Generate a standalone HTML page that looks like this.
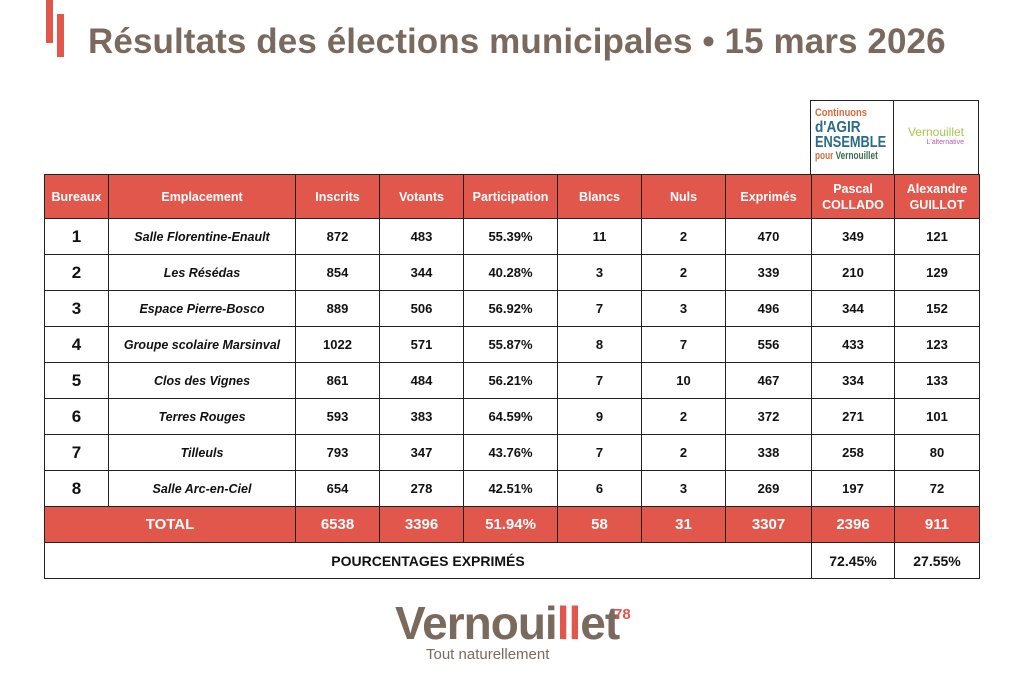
<!DOCTYPE html>
<html><head><meta charset="utf-8"><style>
body{margin:0;width:1024px;height:682px;background:#fff;position:relative;overflow:hidden;font-family:"Liberation Sans",sans-serif}
.bar{position:absolute;background:#e2574c}
h1{position:absolute;left:88px;top:22px;margin:0;font-size:35px;font-weight:bold;color:#7a6a5e;white-space:nowrap;letter-spacing:0.1px}
table{position:absolute;left:44px;top:174px;border-collapse:collapse;table-layout:fixed;width:935px}
td{border:1.5px solid #222;text-align:center;font-size:13px;font-weight:bold;color:#111;height:35px;padding:0}
tr.h td{background:#e2574c;color:#fff;font-size:12.5px;height:43px;line-height:16px}
tr.t td{background:#e2574c;color:#fff;font-size:15px;font-weight:bold}
td.b{font-size:17px}
td.i{font-style:italic;font-size:12.5px}
tr.p td{font-size:14px}
.logo{position:absolute;top:100px;height:74px;border:1.5px solid #222;border-bottom:none;box-sizing:border-box;background:#fff;overflow:hidden}
</style></head><body>
<div class="bar" style="left:46px;top:0;width:7px;height:43px"></div>
<div class="bar" style="left:57px;top:14px;width:7px;height:43px"></div>
<h1>Résultats des élections municipales • 15 mars 2026</h1>
<div class="logo" style="left:810px;width:85px;padding:6px 0 0 4px;font-weight:bold;line-height:13px">
<div style="color:#d46a3a;font-size:11px;transform:scaleX(.85);transform-origin:left">Continuons</div>
<div style="color:#2a6b8a;font-size:16px;line-height:15px;transform:scaleX(.85);transform-origin:left">d'AGIR</div>
<div style="color:#2a6b8a;font-size:16px;line-height:15px;transform:scaleX(.8);transform-origin:left">ENSEMBLE</div>
<div style="font-size:11px;transform:scaleX(.75);transform-origin:left;white-space:nowrap"><span style="color:#d46a3a">pour</span> <span style="color:#3a6b4a">Vernouillet</span></div>
</div>
<div class="logo" style="left:893px;width:86px;text-align:center;padding-top:24px">
<div style="color:#a8c44a;font-size:12px">Vernouillet</div>
<div style="color:#b060b0;font-size:7px;text-align:right;padding-right:14px">L'alternative</div>
</div>
<table>
<colgroup><col style="width:64px"><col style="width:187px"><col style="width:84px"><col style="width:84px"><col style="width:94px"><col style="width:84px"><col style="width:84px"><col style="width:86px"><col style="width:83px"><col style="width:85px"></colgroup>
<tr class="h"><td>Bureaux</td><td>Emplacement</td><td>Inscrits</td><td>Votants</td><td>Participation</td><td>Blancs</td><td>Nuls</td><td>Exprimés</td><td>Pascal<br>COLLADO</td><td>Alexandre<br>GUILLOT</td></tr>
<tr><td class="b">1</td><td class="i">Salle Florentine-Enault</td><td>872</td><td>483</td><td>55.39%</td><td>11</td><td>2</td><td>470</td><td>349</td><td>121</td></tr>
<tr><td class="b">2</td><td class="i">Les Résédas</td><td>854</td><td>344</td><td>40.28%</td><td>3</td><td>2</td><td>339</td><td>210</td><td>129</td></tr>
<tr><td class="b">3</td><td class="i">Espace Pierre-Bosco</td><td>889</td><td>506</td><td>56.92%</td><td>7</td><td>3</td><td>496</td><td>344</td><td>152</td></tr>
<tr><td class="b">4</td><td class="i">Groupe scolaire Marsinval</td><td>1022</td><td>571</td><td>55.87%</td><td>8</td><td>7</td><td>556</td><td>433</td><td>123</td></tr>
<tr><td class="b">5</td><td class="i">Clos des Vignes</td><td>861</td><td>484</td><td>56.21%</td><td>7</td><td>10</td><td>467</td><td>334</td><td>133</td></tr>
<tr><td class="b">6</td><td class="i">Terres Rouges</td><td>593</td><td>383</td><td>64.59%</td><td>9</td><td>2</td><td>372</td><td>271</td><td>101</td></tr>
<tr><td class="b">7</td><td class="i">Tilleuls</td><td>793</td><td>347</td><td>43.76%</td><td>7</td><td>2</td><td>338</td><td>258</td><td>80</td></tr>
<tr><td class="b">8</td><td class="i">Salle Arc-en-Ciel</td><td>654</td><td>278</td><td>42.51%</td><td>6</td><td>3</td><td>269</td><td>197</td><td>72</td></tr>
<tr class="t"><td colspan="2">TOTAL</td><td>6538</td><td>3396</td><td>51.94%</td><td>58</td><td>31</td><td>3307</td><td>2396</td><td>911</td></tr>
<tr class="p"><td colspan="8">POURCENTAGES EXPRIMÉS</td><td>72.45%</td><td>27.55%</td></tr>
</table>
<div style="position:absolute;left:395px;top:598px;font-size:46px;font-weight:bold;color:#7a6a5e;line-height:50px;letter-spacing:-1px">Vernoui<span style="color:#e2574c">ll</span>et</div>
<div style="position:absolute;left:614px;top:606px;font-size:15px;font-weight:bold;color:#e2574c">78</div>
<div style="position:absolute;left:426px;top:646px;font-size:15px;color:#7a6a5e">Tout naturellement</div>
</body></html>
